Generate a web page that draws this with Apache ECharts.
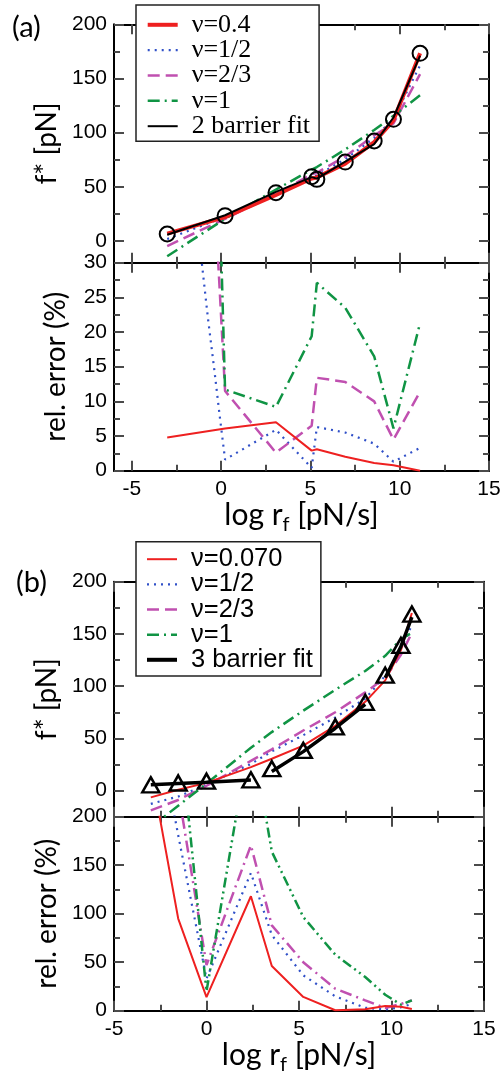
<!DOCTYPE html>
<html><head><meta charset="utf-8">
<script src="https://cdn.jsdelivr.net/npm/echarts@6/dist/echarts.min.js"></script>
<style>html,body{margin:0;padding:0;background:#fff}#c{width:501px;height:1076px}</style>
</head><body><div id="c"></div><script>
// ---------- Panel (a) data ----------
const xA = [-3.02, 0.22, 3.07, 5.07, 5.36, 6.95, 8.57, 9.65, 11.14];
const dataA = [6.5, 23.4, 44.6, 59.4, 56.9, 72.9, 92.3, 112.3, 173.2];
const fitA = [5.8, 23.8, 45.3, 59.0, 57.6, 73.2, 89.5, 114.0, 171.0];
const nu04A = [6.8, 22.0, 42.5, 57.7, 58.7, 71.4, 91.3, 111.4, 173.2];
const nuHalfA = [1.8, 22.5, 42.5, 59.5, 60.5, 75.5, 95.0, 113.0, 162.0];
const nuTwoThirdsA = [-4.6, 20.5, 43.5, 61.5, 63.0, 78.0, 97.5, 108.5, 154.0];
const nuOneA = [-14.0, 20.5, 47.5, 65.9, 68.3, 84.5, 102.5, 115.5, 134.5];
const errNu04A = [4.8, 6.1, 7.0, 2.9, 3.1, 2.0, 1.1, 0.8, 0.0];
const xErrHalfA = [-3.02, -0.74, -0.37, -0.09, 0.22, 3.07, 5.07, 5.36, 6.95, 8.57, 9.65, 11.14];
const errHalfA = [75, 22.0, 14.3, 8.1, 1.6, 5.9, 0.4, 6.3, 5.5, 3.9, 1.3, 3.3];
const errTwoThirdsA = [168, 11.5, 2.6, 6.5, 13.4, 12.8, 10.0, 4.5, 11.4];
const errOneA = [308, 11.7, 9.2, 19.4, 27.1, 23.5, 16.5, 6.1, 21.3];
const legendA = ['ν=0.4', 'ν=1/2', 'ν=2/3', 'ν=1', '2 barrier fit'];

// ---------- Panel (b) data ----------
const xB = [-3.01, -1.53, 0.0, 2.40, 3.53, 5.23, 6.96, 8.58, 9.66, 10.51, 11.10];
const dataB = [5.5, 7.3, 9.0, 10.3, 21.0, 38.5, 61.0, 84.5, 110.5, 139.0, 169.0];
const fitB = [5.5, 6.8, 8.1, 10.2, 18.3, 37.3, 59.7, 82.5, 108.0, 138.0, 166.0];
const fitBSegments = [[0, 4], [4, 8], [8, 11]];
const nu070B = [-6.5, 0.8, 7.4, 22.5, 30.5, 43.0, 62.0, 85.0, 105.5, 134.5, 170.0];
const nuHalfB = [-12.7, -5.7, 5.8, 25.5, 37.5, 53.0, 70.0, 88.0, 110.0, 136.0, 158.5];
const nuTwoThirdsB = [-19.0, -9.0, 4.6, 28.5, 39.5, 57.5, 75.0, 94.0, 108.0, 130.0, 151.0];
const nuOneB = [-35.0, -14.5, 6.7, 41.0, 56.0, 76.5, 96.5, 114.5, 129.0, 145.0, 151.0];
const errNu070B = [250, 95, 14, 118, 46, 14.2, 0.5, 1.5, 4.8, 4.0, 1.8];
const errHalfB = [330, 181, 33, 142, 78, 36.5, 14.8, 3.0, 1.2, 3.5, 7.0];
const errTwoThirdsB = [445, 227, 47, 170.5, 88, 50, 22.7, 10.7, 2.8, 7.0, 10.7];
const errOneB = [740, 303, 20, 290, 164, 96.6, 57.8, 34.7, 16.5, 6.2, 10.7];
const legendB = ['ν=0.070', 'ν=1/2', 'ν=2/3', 'ν=1', '3 barrier fit'];

// ---------- ticks ----------
const xMajor = [-5, 0, 5, 10, 15];
const xMinor = [-2.5, 2.5, 7.5, 12.5];
const fMajor = [0, 50, 100, 150, 200];
const fMinor = [25, 75, 125, 175];
const errAMajor = [0, 5, 10, 15, 20, 25, 30];
const errAMinor = [2.5, 7.5, 12.5, 17.5, 22.5, 27.5];
const errBMajor = [0, 50, 100, 150, 200];
const errBMinor = [25, 75, 125, 175];

// ---------- styles ----------
const RED = '#ee2020', BLUE = '#3050c8', MAG = '#c050b0', GRN = '#109444', BLK = '#000';
const DOT = [2, 5], DASH = [12, 6], DASHDOT = [12, 5, 2, 5], DASHDOT2 = [10, 4, 2, 4, 2, 4];
const TICKCOL = '#4a4a4a';
const LABELFONT = 'Liberation Sans';
const NAMEFONT = 'Lato';

const xAxis = [], yAxis = [];
function addAxes(kind, grid, min, max, major, minor, labels, nameOpt) {
  const arr = kind === 'x' ? xAxis : yAxis;
  const sides = kind === 'x' ? ['bottom', 'top'] : ['left', 'right'];
  let primary = -1;
  sides.forEach((pos, i) => {
    const ax = {
      type: 'value', gridIndex: grid, position: pos, min: min, max: max,
      axisLine: { show: true, onZero: false, lineStyle: { color: '#000', width: 2 } },
      axisTick: { show: true, inside: true, length: 10, customValues: major, lineStyle: { color: TICKCOL, width: 2 } },
      axisLabel: { show: labels && i === 0, customValues: major, margin: kind === 'x' ? 8 : 7,
        fontFamily: LABELFONT, fontSize: 21, color: '#000' },
      splitLine: { show: false }, minorTick: { show: false }
    };
    if (i === 0 && nameOpt) Object.assign(ax, nameOpt);
    if (i === 0) primary = arr.length;
    arr.push(ax);
  });
  sides.forEach(pos => {
    arr.push({
      type: 'value', gridIndex: grid, position: pos, min: min, max: max,
      axisLine: { show: false, onZero: false },
      axisTick: { show: true, inside: true, length: 6, customValues: minor, lineStyle: { color: TICKCOL, width: 2 } },
      axisLabel: { show: false }, splitLine: { show: false }
    });
  });
  return primary;
}

const xName = {
  name: '{n|log r}{s|f}{n| [pN/s]}', nameLocation: 'middle', nameGap: 25,
  nameTextStyle: { rich: {
    n: { fontFamily: NAMEFONT, fontSize: 30, color: '#000', verticalAlign: 'top', lineHeight: 36 },
    s: { fontFamily: NAMEFONT, fontSize: 20, color: '#000', verticalAlign: 'top', lineHeight: 36, padding: [14, 0, 0, 0] }
  } }
};
function yName(t, gap) {
  return { name: t, nameLocation: 'middle', nameGap: gap,
    nameTextStyle: { fontFamily: NAMEFONT, fontSize: 28, color: '#000' } };
}

const grid = [
  { left: 114, right: 12, top: 24.3, height: 238.4, outerBoundsMode: 'none' },
  { left: 114, right: 12, top: 262.7, height: 208, outerBoundsMode: 'none' },
  { left: 114, right: 17, top: 581.7, height: 235, outerBoundsMode: 'none' },
  { left: 114, right: 17, top: 816.7, height: 194, outerBoundsMode: 'none' }
];

const xa0 = addAxes('x', 0, -6, 15, xMajor, xMinor, false);
const ya0 = addAxes('y', 0, -20, 200, fMajor, fMinor, true, yName('f* [pN]', 50));
const xa1 = addAxes('x', 1, -6, 15, xMajor, xMinor, true, xName);
const ya1 = addAxes('y', 1, 0, 30, errAMajor, errAMinor, true, yName('rel. error (%)', 44));
const xa2 = addAxes('x', 2, -5, 15, xMajor, xMinor, false);
const ya2 = addAxes('y', 2, -25, 200, fMajor, fMinor, true, yName('f* [pN]', 50));
const xa3 = addAxes('x', 3, -5, 15, xMajor, xMinor, true, xName);
const ya3 = addAxes('y', 3, 0, 200, errBMajor, errBMinor, true, yName('rel. error (%)', 44));

function pairs(xs, ys) { return xs.map((x, i) => [x, ys[i]]); }
function line(name, xs, ys, xi, yi, color, width, type, z) {
  return { type: 'line', name: name, xAxisIndex: xi, yAxisIndex: yi, data: pairs(xs, ys),
    symbol: 'none', showSymbol: false, clip: true, silent: true, z: z || 2,
    lineStyle: { color: color, width: width, type: type, cap: 'butt' }, itemStyle: { color: color } };
}
function markers(name, xs, ys, xi, yi, symbol, size, bw) {
  return { type: 'scatter', name: name, xAxisIndex: xi, yAxisIndex: yi, data: pairs(xs, ys),
    symbol: symbol, symbolSize: size, silent: true, z: 5,
    itemStyle: { color: 'rgba(0,0,0,0)', borderColor: '#000', borderWidth: bw, opacity: 1 } };
}

const series = [
  // (a) top
  line('ν=1/2', xA, nuHalfA, xa0, ya0, BLUE, 2.2, DOT),
  line('ν=2/3', xA, nuTwoThirdsA, xa0, ya0, MAG, 2.5, DASH),
  line('ν=1', xA, nuOneA, xa0, ya0, GRN, 2.5, DASHDOT),
  line('ν=0.4', xA, nu04A, xa0, ya0, RED, 4, 'solid'),
  line('2 barrier fit', xA, fitA, xa0, ya0, BLK, 2, 'solid', 3),
  markers('data a', xA, dataA, xa0, ya0, 'circle', 15, 2),
  // (a) bottom
  line('err a 1/2', xErrHalfA, errHalfA, xa1, ya1, BLUE, 2.2, DOT),
  line('err a 2/3', xA, errTwoThirdsA, xa1, ya1, MAG, 2.5, DASH),
  line('err a 1', xA, errOneA, xa1, ya1, GRN, 2.5, DASHDOT),
  line('err a 0.4', xA, errNu04A, xa1, ya1, RED, 2, 'solid'),
  // (b) top
  line('ν=1/2', xB, nuHalfB, xa2, ya2, BLUE, 2.2, DOT),
  line('ν=2/3', xB, nuTwoThirdsB, xa2, ya2, MAG, 2.5, DASH),
  line('ν=1', xB, nuOneB, xa2, ya2, GRN, 2.5, DASHDOT),
  line('ν=0.070', xB, nu070B, xa2, ya2, RED, 2, 'solid'),
  ...fitBSegments.map(s => line('3 barrier fit', xB.slice(s[0], s[1]), fitB.slice(s[0], s[1]), xa2, ya2, BLK, 3.5, 'solid', 3)),
  markers('data b', xB, dataB, xa2, ya2, 'triangle', [17, 15], 2.5),
  // (b) bottom
  line('err b 1/2', xB, errHalfB, xa3, ya3, BLUE, 2.2, DOT),
  line('err b 2/3', xB, errTwoThirdsB, xa3, ya3, MAG, 2.5, DASHDOT),
  line('err b 1', xB, errOneB, xa3, ya3, GRN, 2.5, DASHDOT2),
  line('err b 0.070', xB, errNu070B, xa3, ya3, RED, 2, 'solid')
];

// legend icon stroke widths follow the series widths
const legendWidthA = [4, 2.2, 2.5, 2.5, 2];
const legendWidthB = [2, 2.2, 2.5, 2.5, 4];
function legendCfg(names, widths, left, top, padding, gap, font, size) {
  return {
    data: names.map((n, i) => ({ name: n, lineStyle: { width: widths[i] } })),
    orient: 'vertical', left: left, top: top, padding: padding,
    itemWidth: 30, itemHeight: 14, itemGap: gap, selectedMode: false,
    itemStyle: { opacity: 0 },
    backgroundColor: '#fff', borderColor: '#222', borderWidth: 1.5, borderRadius: 0, z: 10,
    formatter: n => '{t|' + n + '}',
    textStyle: { fontFamily: font, fontSize: size, color: '#000',
      rich: { t: { fontFamily: font, fontSize: size, color: '#000', padding: [0, 0, 0, 9] } } }
  };
}

const option = {
  animation: false,
  backgroundColor: '#fff',
  grid: grid, xAxis: xAxis, yAxis: yAxis, series: series,
  legend: [
    legendCfg(legendA, legendWidthA, 136, 5, [6.8, 9, 2.1, 9.7], -0.65, 'Liberation Serif', 26),
    legendCfg(legendB, legendWidthB, 136, 541.7, [4.5, 8, 3.2, 9], -0.85, 'Liberation Sans', 25.5)
  ],
  graphic: [
    { type: 'text', left: 12, top: 13, style: { text: '(a)', fontFamily: NAMEFONT, fontSize: 29, fill: '#000' } },
    { type: 'text', left: 16, top: 568, style: { text: '(b)', fontFamily: NAMEFONT, fontSize: 29, fill: '#000' } }
  ]
};
const chart = echarts.init(document.getElementById('c'));
chart.setOption(option);
</script></body></html>
